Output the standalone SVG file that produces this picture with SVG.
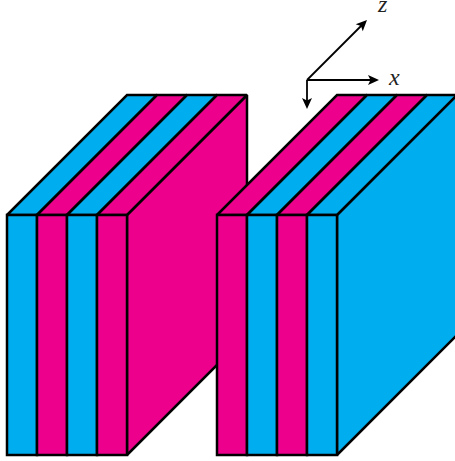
<svg xmlns="http://www.w3.org/2000/svg" width="455" height="461" viewBox="0 0 455 461">
<style>
.c{fill:#00aeef}.m{fill:#ec008c}
.c,.m{stroke:#000;stroke-width:2.5;stroke-linejoin:miter;stroke-miterlimit:2}
.a{fill:none;stroke:#000;stroke-width:1.8}
.h{fill:#000}
text{font-family:"Liberation Serif",serif;font-style:italic;font-size:24px;fill:#222}
</style>
<defs><path id="ah" class="h" d="M0 0L-11 -5L-8.5 0L-11 5Z"/></defs>
<rect width="455" height="461" fill="#fff"/>
<g id="block-left">
<path class="m" d="M127 215L247 95V335L127 455Z"/>
<path class="c" d="M7 215L127 95H157L37 215Z"/>
<path class="m" d="M37 215L157 95H187L67 215Z"/>
<path class="c" d="M67 215L187 95H217L97 215Z"/>
<path class="m" d="M97 215L217 95H247L127 215Z"/>
<rect class="c" x="7" y="215" width="30" height="240"/>
<rect class="m" x="37" y="215" width="30" height="240"/>
<rect class="c" x="67" y="215" width="30" height="240"/>
<rect class="m" x="97" y="215" width="30" height="240"/>
</g>
<g id="block-right">
<path class="c" d="M337 215L457 95V335L337 455Z"/>
<path class="m" d="M217 215L337 95H367L247 215Z"/>
<path class="c" d="M247 215L367 95H397L277 215Z"/>
<path class="m" d="M277 215L397 95H427L307 215Z"/>
<path class="c" d="M307 215L427 95H457L337 215Z"/>
<rect class="m" x="217" y="215" width="30" height="240"/>
<rect class="c" x="247" y="215" width="30" height="240"/>
<rect class="m" x="277" y="215" width="30" height="240"/>
<rect class="c" x="307" y="215" width="30" height="240"/>
</g>
<g id="connectors">
<path class="a" d="M307 80L362 25"/>
<use href="#ah" transform="translate(367 20) rotate(-45)"/>
<path class="a" d="M307 80H374"/>
<use href="#ah" transform="translate(379 80)"/>
<path class="a" d="M307 80V104"/>
<use href="#ah" transform="translate(307 109) rotate(90)"/>
</g>
<g id="labels">
<text x="378" y="11.5">z</text>
<text x="389" y="85">x</text>
</g>
</svg>
